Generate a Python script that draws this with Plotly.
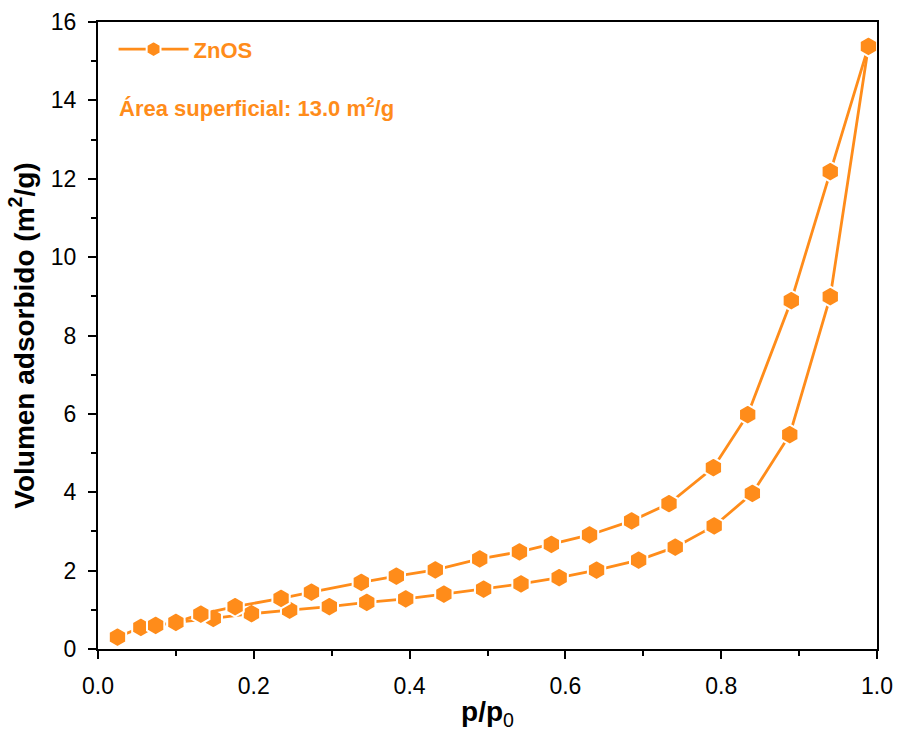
import plotly.graph_objects as go

# Adsorption branch (lower)
ads_x = [0.025, 0.055, 0.074, 0.100, 0.148, 0.197, 0.246, 0.297, 0.345, 0.395,
         0.444, 0.495, 0.543, 0.592, 0.640, 0.694, 0.741, 0.791, 0.840, 0.888,
         0.940, 0.989]
ads_y = [0.30, 0.55, 0.60, 0.68, 0.78, 0.90, 0.99, 1.08, 1.19, 1.28,
         1.40, 1.53, 1.66, 1.82, 2.01, 2.27, 2.60, 3.14, 3.97, 5.47,
         8.99, 15.38]
# Desorption branch (upper)
des_x = [0.989, 0.940, 0.890, 0.834, 0.790, 0.733, 0.685, 0.631, 0.582, 0.541,
         0.490, 0.433, 0.383, 0.338, 0.274, 0.235, 0.176, 0.132, 0.100]
des_y = [15.38, 12.18, 8.89, 5.98, 4.63, 3.71, 3.27, 2.91, 2.67, 2.48,
         2.30, 2.02, 1.86, 1.70, 1.45, 1.29, 1.08, 0.89, 0.68]

series_name = "ZnOS"
area_label = "Área superficial: 13.0 m<sup>2</sup>/g"
x_title = "<b>p/p</b><sub>0</sub>"
y_title = "<b>Volumen adsorbido (m<sup>2</sup>/g)</b>"

ORANGE = "rgb(255,140,26)"
FONT = "Liberation Sans, Arial, sans-serif"

marker = dict(symbol="hexagon", size=20, color=ORANGE,
              line=dict(color="white", width=2))
line = dict(color=ORANGE, width=2.8)

fig = go.Figure()
fig.add_trace(go.Scatter(x=ads_x, y=ads_y, mode="lines+markers", name="<b>" + series_name + "</b>",
                         marker=marker, line=line, showlegend=True, cliponaxis=False))
fig.add_trace(go.Scatter(x=des_x, y=des_y, mode="lines+markers", name=series_name,
                         marker=marker, line=line, showlegend=False, cliponaxis=False))

axis_common = dict(
    showline=True, linecolor="black", linewidth=2, mirror=True,
    ticks="outside", ticklen=8, tickwidth=2, tickcolor="black",
    showgrid=False, zeroline=False, ticklabelstandoff=7, automargin=False,
    tickfont=dict(family=FONT, size=23, color="black"),
)

fig.update_xaxes(range=[0, 1.0], dtick=0.2, tickformat=".1f",
                 minor=dict(dtick=0.1, ticks="outside", ticklen=5, tickwidth=2, tickcolor="black"),
                 title=dict(text=x_title, font=dict(family=FONT, size=28, color="black"), standoff=4),
                 **axis_common)
fig.update_yaxes(range=[0, 16], dtick=2,
                 minor=dict(dtick=1, ticks="outside", ticklen=5, tickwidth=2, tickcolor="black"),
                 title=dict(text=y_title, font=dict(family=FONT, size=28, color="black"), standoff=8),
                 **axis_common)

fig.add_annotation(x=0.025, y=0.864, xref="paper", yref="paper", xanchor="left", yanchor="middle",
                   text="<b>" + area_label + "</b>", showarrow=False,
                   font=dict(family=FONT, size=22, color=ORANGE))

fig.update_layout(
    width=898, height=733,
    margin=dict(l=98, r=21, t=22, b=84, autoexpand=False),
    plot_bgcolor="white", paper_bgcolor="white",
    legend=dict(x=0.02, y=0.99, xanchor="left", yanchor="top", itemwidth=70,
                bgcolor="rgba(0,0,0,0)",
                font=dict(family=FONT, size=22, color=ORANGE)),
)

fig.write_html("out.html")
